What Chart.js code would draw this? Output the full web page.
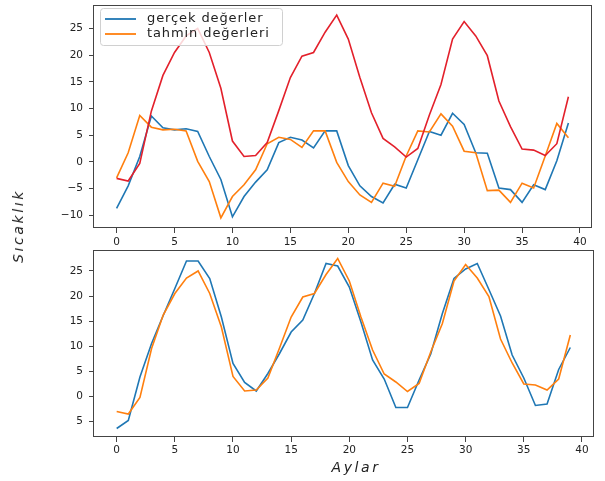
<!DOCTYPE html>
<html>
<head>
<meta charset="utf-8">
<script src="https://cdn.jsdelivr.net/npm/chart.js@4.4.1/dist/chart.umd.min.js"></script>
<style>
  html, body { margin: 0; padding: 0; background: #fff; }
  #wrap { position: relative; width: 605px; height: 481px; overflow: hidden; }
  .box { position: absolute; left: 0; }
  .lab { position: absolute; font-family: 'DejaVu Sans'; font-style: italic; font-size: 14px;
         letter-spacing: 2.6px; color: #222; white-space: nowrap; transform-origin: center; }
</style>
</head>
<body>
<div id="wrap">
  <div class="box" style="top:0;width:605px;height:248px"><canvas id="ust"></canvas></div>
  <div class="box" style="top:248px;width:605px;height:233px"><canvas id="alt"></canvas></div>
  <div class="lab" id="ylab" style="left:18px;top:226px;transform:translate(-50%,-50%) rotate(-90deg)">Sıcaklık</div>
  <div class="lab" id="xlab" style="left:356px;top:467px;transform:translate(-50%,-50%)">Aylar</div>
</div>
<script>
// ---- data ----
const aylar = [0,1,2,3,4,5,6,7,8,9,10,11,12,13,14,15,16,17,18,19,20,21,22,23,24,25,26,27,28,29,30,31,32,33,34,35,36,37,38,39];

// top panel (scaled values)
const ustGercek = [-8.7,-4.5,1.0,8.6,6.4,6.0,6.2,5.7,1.0,-3.3,-10.3,-6.5,-3.8,-1.5,3.6,4.6,4.1,2.6,5.8,5.8,
                   -0.7,-4.5,-6.5,-7.7,-4.2,-4.9,0.4,5.7,5.0,9.1,7.0,1.7,1.6,-4.9,-5.2,-7.6,-4.3,-5.2,0.2,7.3];
const ustTahmin = [-3.0,1.7,8.7,6.5,6.0,6.1,5.8,0.1,-3.7,-10.5,-6.5,-4.3,-1.5,3.4,4.6,4.2,2.7,5.8,5.8,-0.1,
                   -3.7,-6.2,-7.6,-4.0,-4.6,1.1,5.8,5.6,9.0,6.7,2.0,1.7,-5.4,-5.3,-7.6,-4.0,-4.9,1.1,7.2,4.5];
// prediction on the real temperature scale (red line in top panel, orange line in bottom panel)
const tahminSicaklik = [-3.1,-3.6,-0.3,9.5,16.2,20.5,23.6,25.0,20.5,13.8,3.9,1.0,1.2,3.6,9.6,15.8,19.8,20.5,24.3,27.5,
                        23.0,15.8,9.2,4.4,2.8,0.9,2.5,8.8,14.5,23.0,26.3,23.6,19.9,11.4,6.6,2.4,2.2,1.2,3.4,12.2];
// bottom panel real temperatures
const altGercek = [-6.5,-4.9,3.8,10.5,16.1,21.5,27.0,27.0,23.5,15.8,6.5,2.7,1.0,4.5,8.5,12.8,15.2,20.5,26.5,26.0,
                   21.8,14.8,7.2,3.4,-2.3,-2.3,3.2,8.4,16.5,23.5,25.4,26.5,21.3,16.0,8.2,3.6,-1.9,-1.6,5.3,9.7];

const seriesLabels = ['gerçek değerler', 'tahmin değerleri'];
const xTicks = [0,5,10,15,20,25,30,35,40];
const ustYTicks = [-10,-5,0,5,10,15,20,25];
const altYTicks = [-5,0,5,10,15,20,25];
const altYTickLabels = ['5','0','5','10','15','20','25'];

// ---- helpers ----
const BLUE = '#1f77b4', ORANGE = '#ff7f0e', RED = '#e3202b';
Chart.defaults.font.family = "'DejaVu Sans'";
Chart.defaults.color = '#222';

function pts(ys) { return aylar.map((x, i) => ({ x: x, y: ys[i] })); }
function autoRange(arrs) {
  let lo = Infinity, hi = -Infinity;
  arrs.forEach(a => a.forEach(v => { lo = Math.min(lo, v); hi = Math.max(hi, v); }));
  const m = (hi - lo) * 0.05;
  return [lo - m, hi + m];
}
function minusFmt(v) { return v < 0 ? '\u2212' + Math.abs(v) : String(v); }

const framePlugin = {
  id: 'frame',
  afterDraw(chart) {
    const a = chart.chartArea, ctx = chart.ctx;
    ctx.save();
    ctx.strokeStyle = '#444';
    ctx.lineWidth = 1;
    ctx.strokeRect(Math.round(a.left) - 0.5, Math.round(a.top) + 0.5,
                   Math.round(a.right - a.left) + 1, Math.round(a.bottom - a.top) - 1);
    ctx.restore();
  }
};

const boxLegend = {
  id: 'boxLegend',
  afterDatasetsDraw(chart, args, opts) {
    if (!opts || !opts.show) return;
    const a = chart.chartArea, ctx = chart.ctx;
    const items = chart.data.datasets.filter(d => d.label);
    const x = a.left + 6, y = a.top + 3, w = 182, h = 37;
    ctx.save();
    ctx.beginPath();
    if (ctx.roundRect) ctx.roundRect(x + 0.5, y + 0.5, w, h, 3); else ctx.rect(x + 0.5, y + 0.5, w, h);
    ctx.fillStyle = 'rgba(255,255,255,0.82)';
    ctx.fill();
    ctx.strokeStyle = '#d0d0d0';
    ctx.lineWidth = 1;
    ctx.stroke();
    ctx.font = "13px 'DejaVu Sans'";
    try { ctx.letterSpacing = '0.9px'; } catch (e) {}
    ctx.textBaseline = 'middle';
    items.forEach((d, i) => {
      const cy = y + 11 + i * 15;
      ctx.strokeStyle = d.borderColor;
      ctx.lineWidth = 1.8;
      ctx.beginPath();
      ctx.moveTo(x + 5, cy);
      ctx.lineTo(x + 36, cy);
      ctx.stroke();
      ctx.fillStyle = '#222';
      ctx.fillText(d.label, x + 47, cy);
    });
    ctx.restore();
  }
};

function xScale(tickPad) {
  return {
    type: 'linear', min: -1.95, max: 40.95,
    afterBuildTicks: s => { s.ticks = xTicks.map(v => ({ value: v })); },
    afterFit: s => { s.height = 20; s.paddingLeft = 0; s.paddingRight = 0; },
    grid: { display: true, drawOnChartArea: false, drawTicks: true, tickLength: 5, tickColor: '#444' },
    border: { display: false },
    ticks: { font: { size: 10.5 }, color: '#222', padding: tickPad, maxRotation: 0, callback: v => minusFmt(v) }
  };
}
function yScale(range, tickVals, fmt) {
  return {
    type: 'linear', min: range[0], max: range[1],
    afterBuildTicks: s => { s.ticks = tickVals.map(v => ({ value: v })); },
    afterFit: s => { s.width = 94; s.paddingTop = 0; s.paddingBottom = 0; },
    grid: { display: true, drawOnChartArea: false, drawTicks: true, tickLength: 5, tickColor: '#444' },
    border: { display: false },
    ticks: { font: { size: 10.5 }, color: '#222', padding: 6, callback: fmt }
  };
}
function ds(label, ys, color, order) {
  return { label: label, data: pts(ys), borderColor: color, backgroundColor: color,
           borderWidth: 1.6, pointRadius: 0, tension: 0, fill: false, order: order };
}

new Chart(document.getElementById('ust'), {
  type: 'line',
  data: { datasets: [
    ds(seriesLabels[0], ustGercek, BLUE, 3),
    ds(seriesLabels[1], ustTahmin, ORANGE, 2),
    ds('', tahminSicaklik, RED, 1)
  ] },
  options: {
    responsive: true, maintainAspectRatio: false, animation: false, devicePixelRatio: 1,
    layout: { padding: { left: 0, right: 14, top: 5, bottom: 0 } },
    plugins: { legend: { display: false }, tooltip: { enabled: false }, boxLegend: { show: true } },
    scales: {
      x: xScale(3),
      y: yScale(autoRange([ustGercek, ustTahmin, tahminSicaklik]), ustYTicks, v => minusFmt(v))
    }
  },
  plugins: [framePlugin, boxLegend]
});

new Chart(document.getElementById('alt'), {
  type: 'line',
  data: { datasets: [
    ds(seriesLabels[0], altGercek, BLUE, 2),
    ds(seriesLabels[1], tahminSicaklik, ORANGE, 1)
  ] },
  options: {
    responsive: true, maintainAspectRatio: false, animation: false, devicePixelRatio: 1,
    layout: { padding: { left: 0, right: 12, top: 2, bottom: 24 } },
    plugins: { legend: { display: false }, tooltip: { enabled: false }, boxLegend: { show: false } },
    scales: {
      x: xScale(2),
      y: yScale(autoRange([altGercek, tahminSicaklik]), altYTicks,
                (v) => altYTickLabels[altYTicks.indexOf(v)])
    }
  },
  plugins: [framePlugin, boxLegend]
});
</script>
</body>
</html>
